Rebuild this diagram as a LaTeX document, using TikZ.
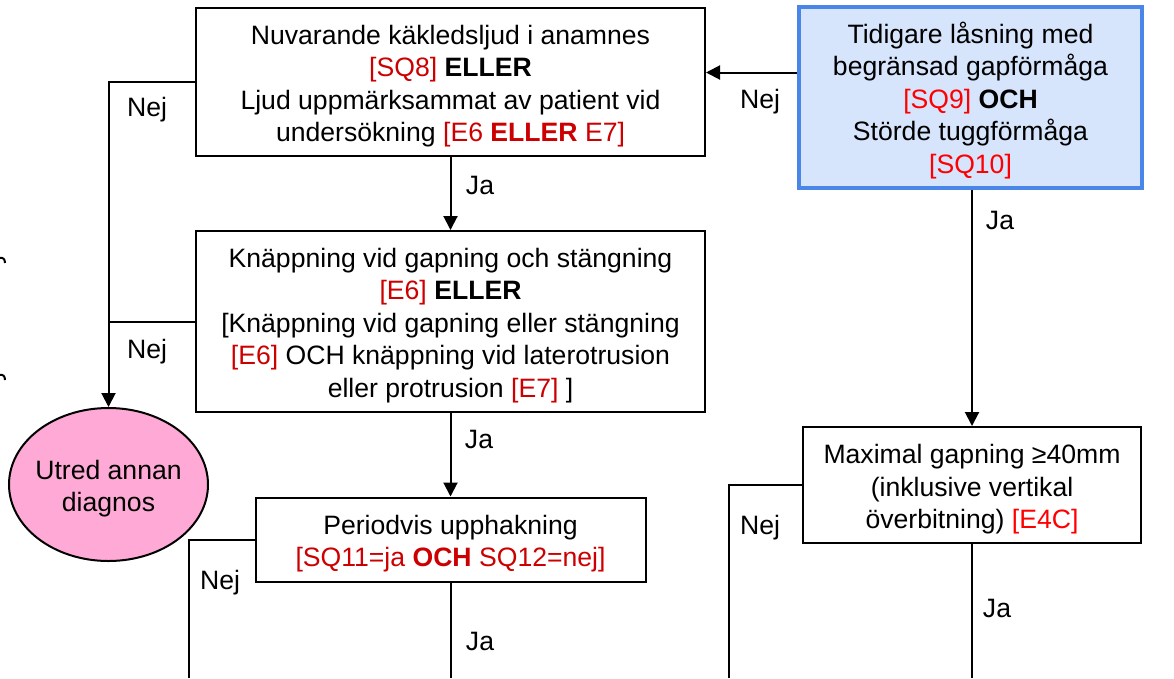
\documentclass[tikz,border=0pt]{standalone}
\usepackage{fontspec}
\setmainfont{Liberation Sans}
\usetikzlibrary{arrows.meta,shapes.geometric}

\definecolor{darkred}{HTML}{CC0000}
\definecolor{brightred}{HTML}{FF0000}
\definecolor{boxblue}{HTML}{4A86E8}
\definecolor{paleblue}{HTML}{D6E4FC}
\definecolor{diagpink}{HTML}{FFAAD6}

\newcommand\dred[1]{\textcolor{darkred}{#1}}
\newcommand\bred[1]{\textcolor{brightred}{#1}}
\newcommand\topstrut{\rule{0pt}{27.5pt}}

\tikzset{
  qbox/.style={draw,rectangle,line width=2pt,inner sep=0pt,align=center},
  arr/.style={-{Triangle[length=14pt,width=14pt]}},
  lbl/.style={inner sep=0pt}
}

\begin{document}
\begin{tikzpicture}[x=1pt,y=-1pt,line width=2pt,
    font=\fontsize{26.6}{32.5}\selectfont]

        \useasboundingbox (0,0) rectangle (1174,678);

        \begin{scope}[every node/.style={qbox}]
          \node[minimum width=509pt,minimum height=148pt] (n1) at (450.5,82)
            {\topstrut Nuvarande käkledsljud i anamnes\\
             \dred{[SQ8]} \textbf{ELLER}\\
             Ljud uppmärksammat av patient vid\\
             undersökning \dred{[E6 \textbf{ELLER} E7]}};
          \node[minimum width=509pt,minimum height=181pt] (n2) at (450.5,321.5)
            {\topstrut Knäppning vid gapning och stängning\\
             \dred{[E6]} \textbf{ELLER}\\
             {[}Knäppning vid gapning eller stängning\\
             \dred{[E6]} OCH knäppning vid laterotrusion\\
             eller protrusion \dred{[E7]} ]};
          \node[minimum width=390pt,minimum height=84pt] (n3) at (450.5,539.5)
            {\topstrut Periodvis upphakning\\
             \dred{[SQ11=ja \textbf{OCH} SQ12=nej]}};
          \node[draw=boxblue,fill=paleblue,line width=4pt,
                minimum width=343pt,minimum height=181pt] (n4) at (970.5,97.5)
            {\topstrut Tidigare låsning med\\
             begränsad gapförmåga\\
             \bred{[SQ9]} \textbf{OCH}\\
             Störde tuggförmåga\\
             \bred{[SQ10]}};
          \node[minimum width=338pt,minimum height=116pt] (n5) at (972,485)
            {\topstrut Maximal gapning ≥40mm\\
             (inklusive vertikal\\
             överbitning) \bred{[E4C]}};
          \node[ellipse,fill=diagpink,inner xsep=-6pt,
                minimum width=199pt,minimum height=153pt]
            (diag) at (108.5,484.5) {\topstrut Utred annan\\ diagnos};
        \end{scope}

        % free ends at the lower edge
        \coordinate (e3) at (189,678);
        \coordinate (e4) at (450.5,678);
        \coordinate (e5) at (729,678);
        \coordinate (e6) at (972,678);

        % connectors
        \draw[arr] ([yshift=25pt]n4.west) coordinate (q) -- (q -| n1.east);
        \draw[arr] (n1) -- (n2);
        \draw[arr] (n2) -- (n3);
        \draw[arr] (n1.west) -| (diag.north);
        \draw (n2.west) -- (n2.west -| diag.north);
        \draw (n3.west) -| (e3);
        \draw (n3.south) -- (e4);
        \draw[arr] (n4.south -| n5.north) -- (n5.north);
        \draw (n5.west) -| (e5);
        \draw (n5.south) -- (e6);

        % labels
        \begin{scope}[every node/.style={lbl}]
          \node (nej1) at (760,102) {Nej};
          \node (ja1)  at (480,185) {Ja};
          \node (nej2) at (147,110) {Nej};
          \node (nej3) at (147,352) {Nej};
          \node (ja2)  at (479,439) {Ja};
          \node (nej4) at (220,583) {Nej};
          \node (ja3)  at (480,641) {Ja};
          \node (ja4)  at (1000,220) {Ja};
          \node (nej5) at (760,528) {Nej};
          \node (ja5)  at (997,608) {Ja};
        \end{scope}

        % cut-off marks at the left edge
        \draw (-1,258) .. controls (3,257) and (5,259) .. (5,263);
        \draw (-1,375) .. controls (3,374) and (5,376) .. (5,380);

      \end{tikzpicture}
\end{document}
